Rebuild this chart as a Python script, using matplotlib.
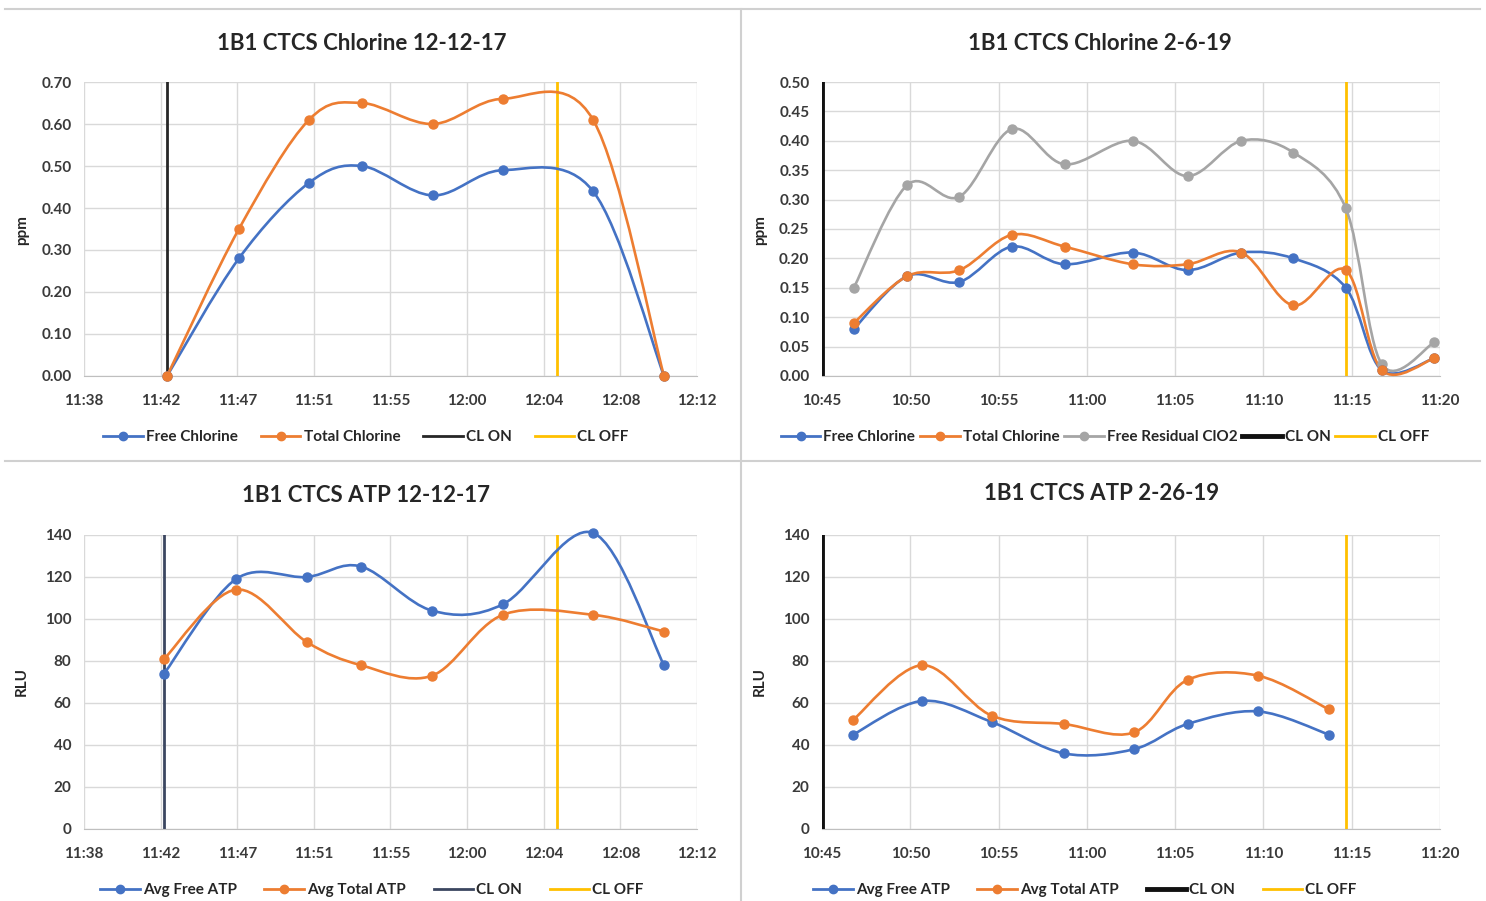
import numpy as np
import matplotlib
matplotlib.use('Agg')
import matplotlib.pyplot as plt
from matplotlib.path import Path
from matplotlib.patches import PathPatch
from matplotlib.lines import Line2D

plt.rcParams['font.family'] = ['Lato', 'DejaVu Sans']

BLUE = '#4472C4'
ORANGE = '#ED7D31'
GREY = '#A5A5A5'
YELLOW = '#FFC000'
TXT = '#3A3A3A'

# ---- data (times as clock strings) ----
# 1B1 CTCS Chlorine 12-12-17
cl1_times = ['11:43:05', '11:47:08', '11:51:05', '11:54:04', '11:58:04', '12:02:01', '12:07:06', '12:11:06']
cl1_free = [0.00, 0.28, 0.46, 0.50, 0.43, 0.49, 0.44, 0.00]
cl1_total = [0.00, 0.35, 0.61, 0.65, 0.60, 0.66, 0.61, 0.00]
cl1_on = '11:43:05'
cl1_off = '12:05:04'

# 1B1 CTCS Chlorine 2-6-19
cl2_times = ['10:46:48', '10:49:50', '10:52:47', '10:55:45', '10:58:45', '11:02:36',
             '11:05:42', '11:08:45', '11:11:42', '11:14:40', '11:16:42', '11:19:40']
cl2_free = [0.08, 0.17, 0.16, 0.22, 0.19, 0.21, 0.18, 0.21, 0.20, 0.15, 0.01, 0.03]
cl2_total = [0.09, 0.17, 0.18, 0.24, 0.22, 0.19, 0.19, 0.21, 0.12, 0.18, 0.01, 0.03]
cl2_clo2 = [0.15, 0.325, 0.305, 0.42, 0.36, 0.40, 0.34, 0.40, 0.38, 0.285, 0.02, 0.057]
cl2_on = '10:45:00'
cl2_off = '11:14:40'

# 1B1 CTCS ATP 12-12-17
atp1_times = ['11:42:55', '11:46:58', '11:50:58', '11:54:01', '11:58:01', '12:02:01', '12:07:06', '12:11:06']
atp1_free = [74, 119, 120, 125, 104, 107, 141, 78]
atp1_total = [81, 114, 89, 78, 73, 102, 102, 94]
atp1_on = '11:42:55'
atp1_off = '12:05:04'

# 1B1 CTCS ATP 2-26-19
atp2_times = ['10:46:46', '10:50:41', '10:54:36', '10:58:42', '11:02:40', '11:05:42', '11:09:42', '11:13:42']
atp2_free = [45, 61, 51, 36, 38, 50, 56, 45]
atp2_total = [52, 78, 54, 50, 46, 71, 73, 57]
atp2_on = '10:45:00'
atp2_off = '11:14:42'

# x axis ticks (Excel time axis)
left_ticks = ['11:38', '11:42', '11:47', '11:51', '11:55', '12:00', '12:04', '12:08', '12:12']
right_ticks = ['10:45', '10:50', '10:55', '11:00', '11:05', '11:10', '11:15', '11:20']


def minutes(s):
    parts = [float(p) for p in s.split(':')]
    if len(parts) == 2:
        parts.append(0)
    return parts[0] * 60 + parts[1] + parts[2] / 60


def smooth_path(x, y):
    # Excel-style smoothed line through the points (cubic bezier segments)
    pts = np.column_stack([x, y]).astype(float)
    n = len(pts)
    verts = [pts[0]]
    codes = [Path.MOVETO]
    for i in range(n - 1):
        p0 = pts[max(i - 1, 0)]
        p1 = pts[i]
        p2 = pts[i + 1]
        p3 = pts[min(i + 2, n - 1)]
        verts += [p1 + (p2 - p0) / 6, p2 - (p3 - p1) / 6, p2]
        codes += [Path.CURVE4] * 3
    return Path(verts, codes)


def draw_series(ax, times, vals, color):
    x = [minutes(t) for t in times]
    ax.add_patch(PathPatch(smooth_path(x, vals), fill=False, edgecolor=color, lw=1.9,
                           zorder=3, clip_on=False))
    ax.plot(x, vals, 'o', color=color, ms=6.5, zorder=4, clip_on=False)


def setup(ax, xticks, xlabels, ymax, ystep, yfmt):
    ax.set_xlim(xticks[0], xticks[-1])
    ax.set_ylim(0, ymax)
    ax.set_xticks(xticks)
    ax.set_xticklabels(xlabels)
    yt = np.arange(0, ymax + ystep / 2, ystep)
    ax.set_yticks(yt)
    ax.set_yticklabels([yfmt.format(v) for v in yt])
    ax.grid(True, color='#D9D9D9', lw=1)
    ax.set_axisbelow(True)
    for s in ['top', 'right', 'left']:
        ax.spines[s].set_visible(False)
    ax.spines['bottom'].set_color('#BFBFBF')
    ax.tick_params(length=0, labelsize=11, colors=TXT)
    ax.tick_params(axis='x', pad=13)
    ax.tick_params(axis='y', pad=9)
    for lab in ax.get_xticklabels() + ax.get_yticklabels():
        lab.set_fontweight('bold')


W, H = 1486, 901
fig = plt.figure(figsize=(W / 100, H / 100), dpi=100)


def axes_px(l, t, r, b):
    return fig.add_axes([l / W, 1 - b / H, (r - l) / W, (b - t) / H])


left_x = [698.4 + 4.32 * k for k in range(len(left_ticks))]
right_x = [minutes(t) for t in right_ticks]

ax1 = axes_px(84, 82, 697, 376)
ax2 = axes_px(822, 82, 1440, 376)
ax3 = axes_px(84, 535, 697, 829)
ax4 = axes_px(822, 535, 1440, 829)

setup(ax1, left_x, left_ticks, 0.70, 0.10, '{:.2f}')
setup(ax2, right_x, right_ticks, 0.50, 0.05, '{:.2f}')
setup(ax3, left_x, left_ticks, 140, 20, '{:.0f}')
setup(ax4, right_x, right_ticks, 140, 20, '{:.0f}')

# panel 1
ax1.axvline(minutes(cl1_on), color='#262626', lw=2, zorder=2)
ax1.axvline(minutes(cl1_off), color=YELLOW, lw=2, zorder=2)
draw_series(ax1, cl1_times, cl1_free, BLUE)
draw_series(ax1, cl1_times, cl1_total, ORANGE)

# panel 2
ax2.axvline(minutes(cl2_on), color='#111111', lw=3.5, zorder=5)
ax2.axvline(minutes(cl2_off), color=YELLOW, lw=2, zorder=2)
draw_series(ax2, cl2_times, cl2_clo2, GREY)
draw_series(ax2, cl2_times, cl2_free, BLUE)
draw_series(ax2, cl2_times, cl2_total, ORANGE)

# panel 3
ax3.axvline(minutes(atp1_on), color='#3B4660', lw=2, zorder=2)
ax3.axvline(minutes(atp1_off), color=YELLOW, lw=2, zorder=2)
draw_series(ax3, atp1_times, atp1_free, BLUE)
draw_series(ax3, atp1_times, atp1_total, ORANGE)

# panel 4
ax4.axvline(minutes(atp2_on), color='#111111', lw=3.5, zorder=5)
ax4.axvline(minutes(atp2_off), color=YELLOW, lw=2, zorder=2)
draw_series(ax4, atp2_times, atp2_free, BLUE)
draw_series(ax4, atp2_times, atp2_total, ORANGE)

# titles and axis labels
title_kw = dict(fontsize=16, fontweight='bold', color='#262626', ha='center', va='center')
fig.text(362 / W, 1 - 43 / H, '1B1 CTCS Chlorine 12-12-17', **title_kw)
fig.text(1100 / W, 1 - 43 / H, '1B1 CTCS Chlorine 2-6-19', **title_kw)
fig.text(366 / W, 1 - 495 / H, '1B1 CTCS ATP 12-12-17', **title_kw)
fig.text(1102 / W, 1 - 494 / H, '1B1 CTCS ATP 2-26-19', **title_kw)

lab_kw = dict(fontsize=11, fontweight='bold', color='#262626', rotation=90, ha='center', va='center')
fig.text(22 / W, 1 - 230 / H, 'ppm', **lab_kw)
fig.text(760 / W, 1 - 230 / H, 'ppm', **lab_kw)
fig.text(22 / W, 1 - 682 / H, 'RLU', **lab_kw)
fig.text(760 / W, 1 - 682 / H, 'RLU', **lab_kw)


def mk(color, label, marker=True, lw=2):
    return Line2D([], [], color=color, lw=lw, marker='o' if marker else None, ms=6, label=label)


leg_kw = dict(loc='center', frameon=False, handlelength=2.6, handletextpad=0.2,
              prop={'size': 11, 'weight': 'bold'}, labelcolor='#262626')

fig.legend(handles=[mk(BLUE, 'Free Chlorine'), mk(ORANGE, 'Total Chlorine'),
                    mk('#262626', 'CL ON', False), mk(YELLOW, 'CL OFF', False)],
           bbox_to_anchor=(366 / W, 1 - 437 / H), ncol=4, columnspacing=1.5, **leg_kw)
fig.legend(handles=[mk(BLUE, 'Free Chlorine'), mk(ORANGE, 'Total Chlorine'),
                    mk(GREY, 'Free Residual ClO2'), mk('#111111', 'CL ON', False, 3.5),
                    mk(YELLOW, 'CL OFF', False)],
           bbox_to_anchor=(1105 / W, 1 - 437 / H), ncol=5, columnspacing=0.3, **leg_kw)
fig.legend(handles=[mk(BLUE, 'Avg Free ATP'), mk(ORANGE, 'Avg Total ATP'),
                    mk('#3B4660', 'CL ON', False), mk(YELLOW, 'CL OFF', False)],
           bbox_to_anchor=(372 / W, 1 - 890 / H), ncol=4, columnspacing=1.8, **leg_kw)
fig.legend(handles=[mk(BLUE, 'Avg Free ATP'), mk(ORANGE, 'Avg Total ATP'),
                    mk('#111111', 'CL ON', False, 3.5), mk(YELLOW, 'CL OFF', False)],
           bbox_to_anchor=(1085 / W, 1 - 890 / H), ncol=4, columnspacing=1.8, **leg_kw)

# panel separators
sep = '#D0D0D0'
fig.add_artist(Line2D([5 / W, 1480 / W], [1 - 9 / H, 1 - 9 / H], color=sep, lw=1.5))
fig.add_artist(Line2D([741 / W, 741 / W], [0, 1 - 9 / H], color=sep, lw=1.5))
fig.add_artist(Line2D([5 / W, 1480 / W], [1 - 461 / H, 1 - 461 / H], color=sep, lw=1.5))

fig.savefig('out.png', dpi=100)
